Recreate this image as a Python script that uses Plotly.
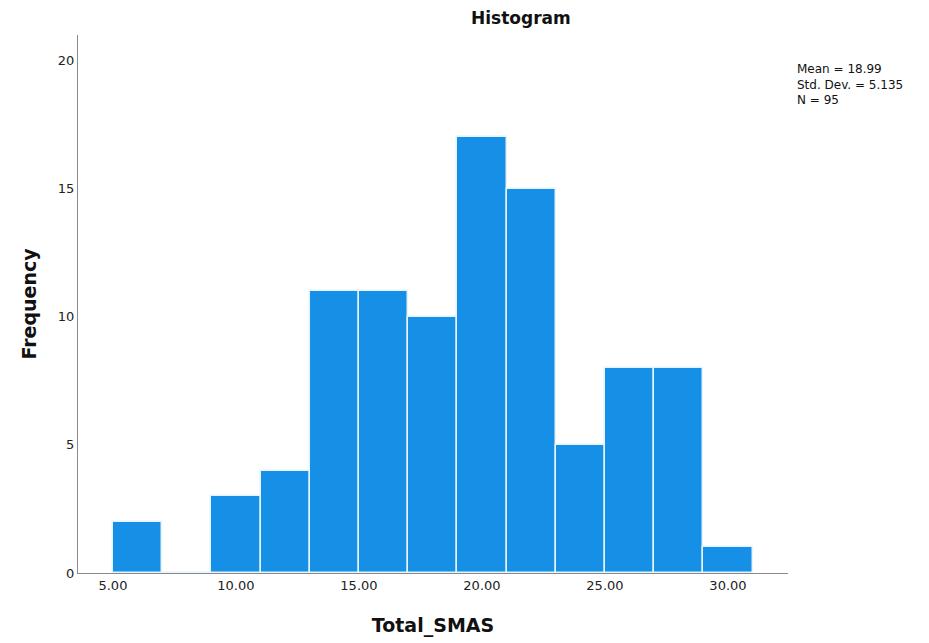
import plotly.graph_objects as go

bin_centers = [6, 8, 10, 12, 14, 16, 18, 20, 22, 24, 26, 28, 30]
counts = [2, 0, 3, 4, 11, 11, 10, 17, 15, 5, 8, 8, 1]
x_ticks = [5, 10, 15, 20, 25, 30]
x_tick_labels = ["5.00", "10.00", "15.00", "20.00", "25.00", "30.00"]
y_ticks = [0, 5, 10, 15, 20]
stats_text = "Mean = 18.99<br>Std. Dev. = 5.135<br>N = 95"

font_family = "DejaVu Sans, Liberation Sans, sans-serif"

fig = go.Figure()
fig.add_trace(go.Bar(
    x=bin_centers, y=counts, width=2,
    marker=dict(color="#1590E6", line=dict(color="#E6F2FC", width=1.5)),
    showlegend=False,
))

fig.update_layout(
    width=929, height=643,
    margin=dict(l=70, r=149, t=27, b=78),
    paper_bgcolor="white", plot_bgcolor="white",
    font=dict(family=font_family, color="#222", size=12),
    bargap=0,
    xaxis=dict(
        range=[3.58, 32.44], tickvals=x_ticks, ticktext=x_tick_labels,
        showline=True, linecolor="#8a8a8a", linewidth=1.2,
        showgrid=False, zeroline=False, ticks="", ticklen=0,
        tickfont=dict(size=13, family=font_family, color="#222"),
        title=dict(text="<b>Total_SMAS</b>", font=dict(size=19, family=font_family, color="#111"), standoff=26),
    ),
    yaxis=dict(
        range=[0, 21], tickvals=y_ticks,
        showline=True, linecolor="#8a8a8a", linewidth=1.2,
        showgrid=False, zeroline=False, ticks="", ticklen=0,
        tickfont=dict(size=13, family=font_family, color="#222"),
        title=dict(text="<b>Frequency</b>", font=dict(size=19, family=font_family, color="#111"), standoff=16),
    ),
    annotations=[
        dict(text="<b>Histogram</b>", xref="paper", yref="paper", x=0.624, y=1.0,
             yshift=17, xanchor="center", yanchor="middle", showarrow=False,
             font=dict(size=17, family=font_family, color="#111")),
        dict(text=stats_text, xref="paper", yref="paper", x=1.0, y=1.0,
             xshift=7, yshift=-25, xanchor="left", yanchor="top", align="left",
             showarrow=False, font=dict(size=12, family=font_family, color="#111")),
    ],
)

fig.write_html("out.html")
